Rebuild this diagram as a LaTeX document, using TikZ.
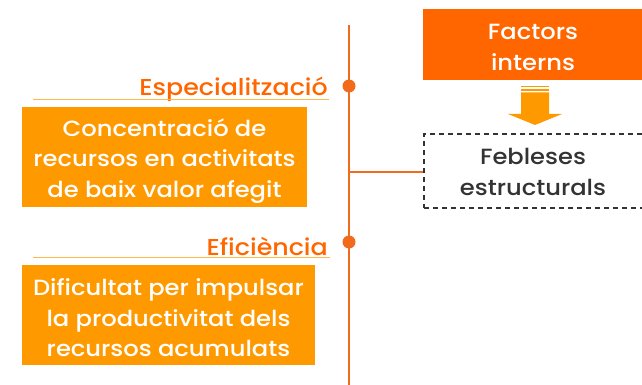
\documentclass[tikz,border=0pt]{standalone}
\usepackage{fontspec}
\setmainfont{Poppins}[UprightFont={* Medium},FakeStretch=1.1]
\definecolor{dorange}{HTML}{FF6600}
\definecolor{lorange}{HTML}{FF9900}
\definecolor{lineor}{HTML}{F26A1B}
\definecolor{dgray}{HTML}{333333}
\tikzset{
  x=1pt,y=-1pt,
  obox/.style={fill=lorange,inner sep=0pt,anchor=north west},
  otxt/.style={text=white,align=center,inner sep=0pt,font=\fontsize{22}{30.5}\selectfont},
  lbl/.style={text=dorange,anchor=east,inner sep=0pt,font=\fontsize{23}{26}\selectfont},
  uline/.style={draw=lorange!70,line width=0.8pt},
  dotm/.style={circle,fill=lineor,inner sep=0pt,minimum size=13pt},
}
\begin{document}
\begin{tikzpicture}
\useasboundingbox (0,0) rectangle (642,385);
\begin{scope}
\clip (0,0) rectangle (642,385);
% vertical line
\coordinate (vtop) at (349,25);
\coordinate (vbot) at (349,385);
\draw[lineor,line width=1.6pt] (vtop) -- (vbot);
\node[dotm] (d1) at (349,86) {};
\node[dotm] (d2) at (349,242) {};
% factors interns
\node[fill=dorange,text=white,align=center,minimum width=225pt,minimum height=71pt,inner sep=0pt,anchor=north west] (fi) at (423,9) {};
\node[text=white,align=center,inner sep=0pt,font=\fontsize{22}{31}\selectfont] (fit) at (533,47) {Factors\\interns};
% dashed box
\node[draw=dgray,line width=1.6pt,dash pattern=on 5pt off 4pt,minimum width=225pt,minimum height=74pt,inner sep=0pt,anchor=north west] (fe) at (423,133) {};
\node[text=dgray,align=center,inner sep=0pt,font=\fontsize{22}{31}\selectfont] (fet) at (533,172) {Febleses\\estructurals};
\coordinate (hj) at (349,172);
\draw[lineor,line width=1.6pt] (hj) -- (fe.west|-hj);
% arrow
\fill[lorange] (521,86) rectangle (549,87.5);
\fill[lorange] (521,89.5) rectangle (549,91);
\fill[lorange] (521,92.5) -- (549,92.5) -- (549,114) -- (562,114) -- (535,125) -- (508,114) -- (521,114) -- cycle;
% labels
\node[lbl] (l1) at (328,89) {Especialització};
\coordinate (u1a) at (33,99);
\coordinate (u1b) at (329,99);
\draw[uline] (u1a) -- (u1b);
\node[lbl] (l2) at (328,246) {Eficiència};
\coordinate (u2a) at (33,257);
\coordinate (u2b) at (330,257);
\draw[uline] (u2a) -- (u2b);
% boxes
\node[obox,minimum width=285pt,minimum height=100pt] (b1) at (22,107) {};
\node[otxt] (b1t) at (164.5,161) {Concentració de\\recursos en activitats\\de baix valor afegit};
\node[obox,minimum width=293pt,minimum height=100pt] (b2) at (22,265) {};
\node[otxt] (b2t) at (168.5,318) {Dificultat per impulsar\\la productivitat dels\\recursos acumulats};
\end{scope}
\end{tikzpicture}
\end{document}
